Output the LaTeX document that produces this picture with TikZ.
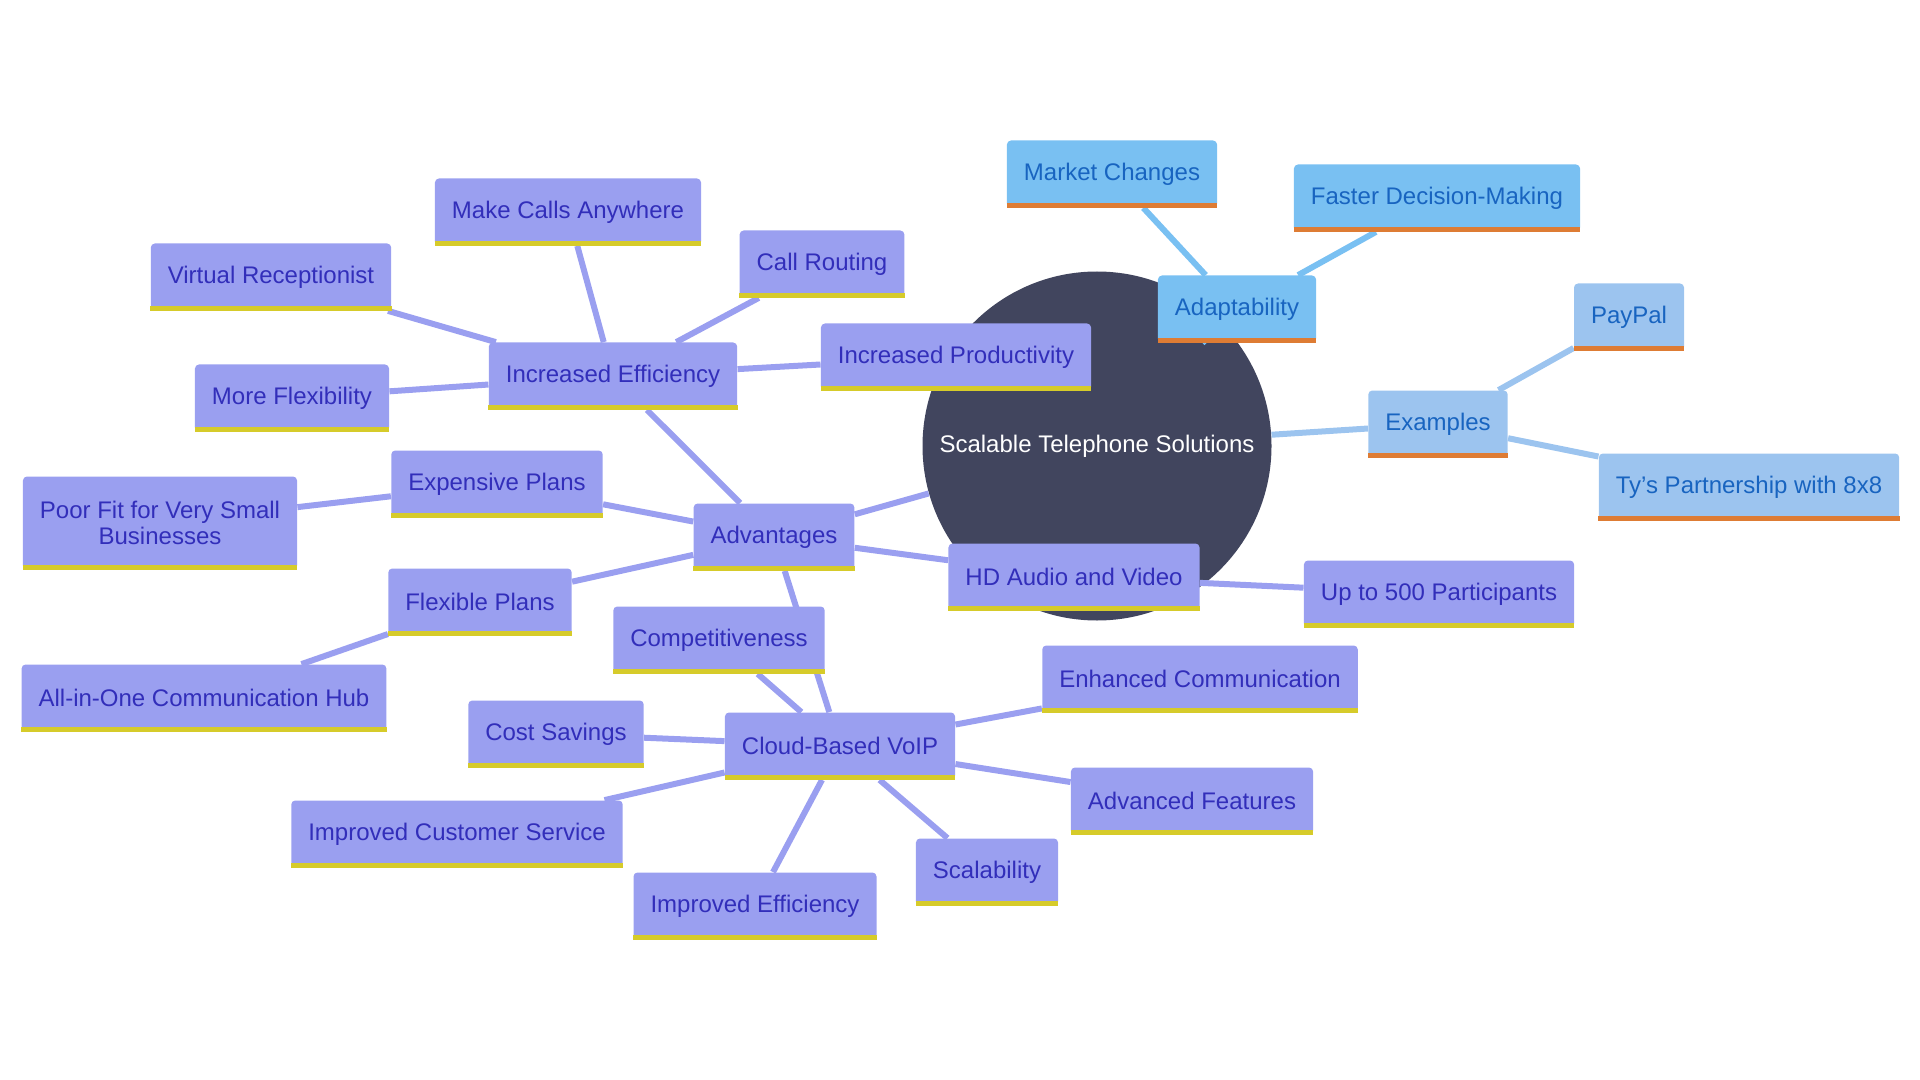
\documentclass[tikz,border=0pt]{standalone}
\usepackage{fontspec}
\setmainfont{Liberation Sans}
\usepackage{tikz}
\usetikzlibrary{arrows.meta}

\definecolor{hubcol}{RGB}{65,69,94}
\definecolor{purp}{RGB}{154,159,240}
\definecolor{purptext}{RGB}{50,46,186}
\definecolor{baryellow}{RGB}{214,203,42}
\definecolor{skyA}{RGB}{121,192,242}
\definecolor{skyB}{RGB}{156,196,239}
\definecolor{bluetext}{RGB}{24,100,192}
\definecolor{barorange}{RGB}{222,124,52}

\pgfdeclarelayer{hub}
\pgfdeclarelayer{links}
\pgfsetlayers{hub,links,main}

\begin{document}
\begin{tikzpicture}[x=0.5pt, y=-0.5pt,
    every node/.style = {font=\fontsize{12}{13}\selectfont},
    main/.style = {fill=purp, text=purptext, rounded corners=2pt, inner xsep=8.5pt, inner ysep=0pt, minimum height=33.5pt},
    adapt/.style = {main, fill=skyA, text=bluetext},
    expl/.style = {main, fill=skyB, text=bluetext},
    hub/.style = {circle, fill=hubcol, text=white, minimum size=174.5pt, inner sep=0pt},
    link/.style = {line width=3pt, draw=purp}]
    \useasboundingbox (0,0) rectangle (1920,1080);

    \begin{pgfonlayer}{hub}
        \node[hub] (Hub) at (1097,446) {Scalable Telephone Solutions};
    \end{pgfonlayer}

    \node[adapt] (MktChg) at (1112,174) {Market Changes};
    \node[adapt] (Faster) at (1437,198) {Faster Decision-Making};
    \node[adapt] (Adapt) at (1237,309) {Adaptability};
    \node[expl] (PayPal) at (1629,317) {PayPal};
    \node[expl] (Examples) at (1438,424) {Examples};
    \node[expl] (Ty) at (1749,487) {Ty's Partnership with 8x8};

    \node[main] (MakeCalls) at (568,212) {Make Calls Anywhere};
    \node[main] (VirtRec) at (271,277) {Virtual Receptionist};
    \node[main] (CallRout) at (822,264) {Call Routing};
    \node[main] (IncEff) at (613,376) {Increased Efficiency};
    \node[main] (IncProd) at (956,357) {Increased Productivity};
    \node[main] (MoreFlex) at (292,398) {More Flexibility};
    \node[main] (Expensive) at (497,484) {Expensive Plans};
    \node[main, align=center, minimum height=46.5pt] (PoorFit) at (160,523) {Poor Fit for Very Small\\Businesses};
    \node[main] (Adv) at (774,537) {Advantages};
    \node[main] (FlexPlans) at (480,602) {Flexible Plans};
    \node[main] (HD) at (1074,577) {HD Audio and Video};
    \node[main] (Up500) at (1439,594) {Up to 500 Participants};
    \node[main] (AllInOne) at (204,698) {All-in-One Communication Hub};
    \node[main] (Compet) at (719,640) {Competitiveness};
    \node[main] (EnhComm) at (1200,679) {Enhanced Communication};
    \node[main] (CostSav) at (556,734) {Cost Savings};
    \node[main] (Cloud) at (840,746) {Cloud-Based VoIP};
    \node[main] (AdvFeat) at (1192,801) {Advanced Features};
    \node[main] (ImpCust) at (457,834) {Improved Customer Service};
    \node[main] (Scal) at (987,872) {Scalability};
    \node[main] (ImpEff) at (755,906) {Improved Efficiency};

    \begin{pgfonlayer}{links}
        \path[link, draw=skyA] (Hub) edge (Adapt);
        \path[link, draw=skyB] (Hub) edge (Examples);
        \path[link] (Hub) edge (Adv);
        \path[link, draw=skyA] (Adapt) edge (MktChg) edge (Faster);
        \path[link, draw=skyB] (Examples) edge (PayPal) edge (Ty);
        \path[link] (Adv) edge (IncEff) edge (Expensive) edge (FlexPlans) edge (HD) edge (Cloud);
        \path[link] (IncEff) edge (MakeCalls) edge (VirtRec) edge (CallRout) edge (IncProd) edge (MoreFlex);
        \path[link] (Expensive) edge (PoorFit);
        \path[link] (FlexPlans) edge (AllInOne);
        \path[link] (HD) edge (Up500);
        \path[link] (Cloud) edge (Compet) edge (CostSav) edge (ImpCust) edge (ImpEff) edge (Scal) edge (AdvFeat) edge (EnhComm);
    \end{pgfonlayer}

    \foreach \n in {MktChg, Faster, Adapt, PayPal, Examples, Ty}
        \fill[barorange] (\n.south west) rectangle ([yshift=2.5pt]\n.south east);
    \foreach \n in {MakeCalls, VirtRec, CallRout, IncEff, IncProd, MoreFlex, Expensive, PoorFit, Adv, FlexPlans, HD, Up500, AllInOne, Compet, EnhComm, CostSav, Cloud, AdvFeat, ImpCust, Scal, ImpEff}
        \fill[baryellow] (\n.south west) rectangle ([yshift=2.5pt]\n.south east);
\end{tikzpicture}
\end{document}
